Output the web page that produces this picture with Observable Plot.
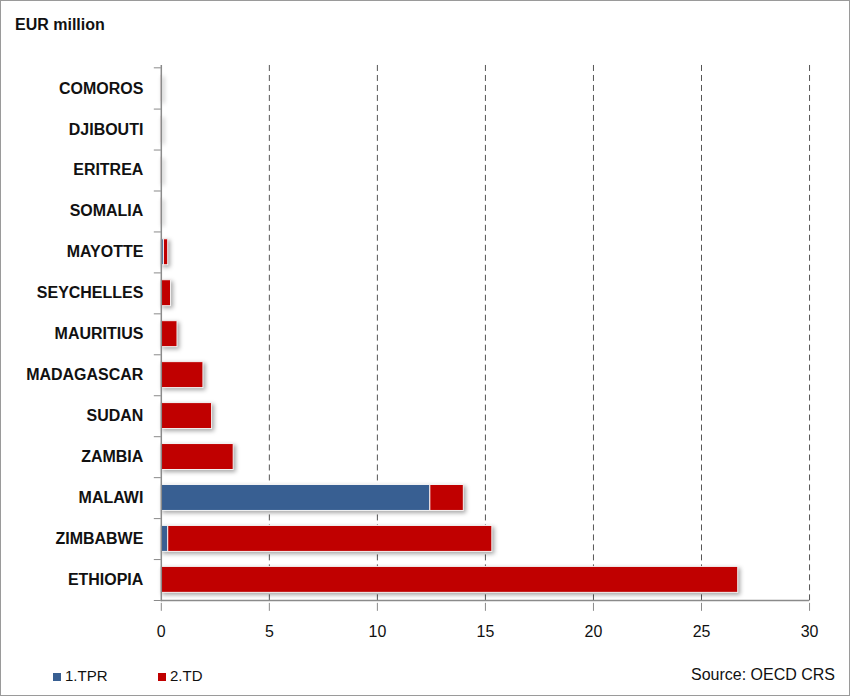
<!DOCTYPE html>
<html><head><meta charset="utf-8">
<script src="https://cdn.jsdelivr.net/npm/d3@7"></script>
<script src="https://cdn.jsdelivr.net/npm/@observablehq/plot@0.6"></script>
<style>
body{margin:0;background:#fff;font-family:"Liberation Sans",Arial,sans-serif;}
#wrap{position:relative;width:848px;height:694px;border:1px solid #9a9a9a;overflow:hidden;}
#title{position:absolute;left:14px;top:15px;font-weight:bold;font-size:16px;color:#111;}
#chart{position:absolute;left:-1px;top:49px;}
#legend{position:absolute;left:0;top:666px;width:848px;height:24px;font-size:15px;color:#111;}
.sw{position:absolute;top:6px;width:8px;height:8px;}
.lt{position:absolute;top:0px;}
#src{position:absolute;right:14px;top:-1px;font-size:16px;}
</style></head>
<body>
<div id="wrap">
<div id="title">EUR million</div>
<div id="chart"></div>
<div id="legend">
<div class="sw" style="left:52px;background:#385f92"></div><div class="lt" style="left:64px">1.TPR</div>
<div class="sw" style="left:157px;background:#c00000"></div><div class="lt" style="left:169px">2.TD</div>
<div id="src">Source: OECD CRS</div>
</div>
</div>
<script>
const countries = ["COMOROS","DJIBOUTI","ERITREA","SOMALIA","MAYOTTE","SEYCHELLES","MAURITIUS","MADAGASCAR","SUDAN","ZAMBIA","MALAWI","ZIMBABWE","ETHIOPIA"];
const tpr = [0, 0, 0, 0, 0.12, 0, 0, 0, 0, 0, 12.45, 0.32, 0];
const td  = [0.03, 0.03, 0.03, 0.03, 0.2, 0.45, 0.75, 1.95, 2.35, 3.35, 1.55, 15.0, 26.7];
const series = ["1.TPR","2.TD"];
const colors = ["#385f92","#c00000"];
const xTicks = [0,5,10,15,20,25,30];

const data = [];
countries.forEach((c,i)=>{
  data.push({country:c, series:series[0], value:tpr[i]});
  data.push({country:c, series:series[1], value:td[i]});
});

const height = 610, marginTop = 15, marginBottom = 58;
const step = (height - marginTop - marginBottom) / countries.length;

const plot = Plot.plot({
  width: 850,
  height,
  marginLeft: 161,
  marginRight: 40,
  marginTop,
  marginBottom,
  style: {fontFamily: '"Liberation Sans", Arial, sans-serif', fontSize: "16px", color: "#111", background: "transparent"},
  x: {domain: [0,30], ticks: xTicks, label: null},
  y: {domain: countries, paddingInner: 0.37, paddingOuter: 0.185, label: null},
  color: {domain: series, range: colors},
  marks: [
    Plot.ruleX(xTicks.filter(d=>d>0), {stroke: "#555", strokeDasharray: "6,4", strokeWidth: 1}),
    Plot.barX(data, Plot.stackX({x: "value", y: "country", fill: "series", stroke: "#f4f4f4", strokeWidth: 1, order: series})),
    Plot.ruleX([0], {stroke: "#8a8a8a", strokeWidth: 1.5}),
    Plot.ruleY([countries[countries.length-1]], {stroke: "#8a8a8a", strokeWidth: 1.5, dy: step/2}),
    Plot.axisY({tickSize: 0, tickPadding: 18, fontWeight: "bold", fontSize: 16}),
    Plot.axisY({tickSize: 7, tickFormat: () => "", dy: step/2, stroke: "#8a8a8a"}),
    Plot.axisY([countries[0]], {tickSize: 7, tickFormat: () => "", dy: -step/2, stroke: "#8a8a8a"}),
    Plot.axisX({ticks: xTicks, tickSize: 8, tickPadding: 14, stroke: "#8a8a8a", dy: 1.5, fontSize: 16})
  ]
});
plot.querySelectorAll('g[aria-label="bar"]').forEach(g => g.style.filter = "drop-shadow(2px 2px 2px rgba(0,0,0,0.35))");
document.getElementById("chart").appendChild(plot);
</script>
</body></html>
